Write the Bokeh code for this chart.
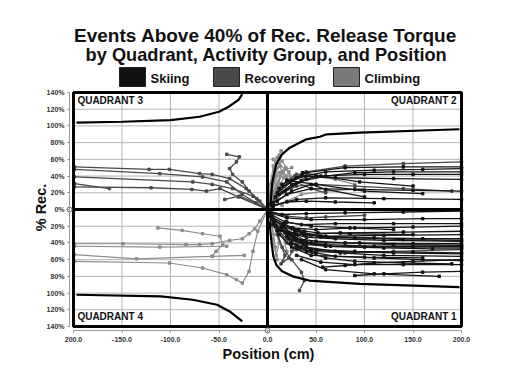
import math
from bokeh.plotting import figure
from bokeh.models import Label, FixedTicker, Range1d
from bokeh.core.properties import value
from bokeh.embed import file_html
from bokeh.resources import INLINE

# ---------------- data ----------------
x_ticks = [-200, -150, -100, -50, 0, 50, 100, 150, 200]
x_tick_labels = ["200.0", "-150.0", "-100.0", "-50.0", "0.0", "50.0", "100.0", "150.0", "200.0"]
y_ticks = [-140, -120, -100, -80, -60, -40, -20, 0, 20, 40, 60, 80, 100, 120, 140]
y_tick_labels = ["140%", "120%", "100%", "80%", "60%", "40%", "20%", "0%", "20%", "40%", "60%", "80%", "100%", "120%", "140%"]

categories = ["Skiing", "Recovering", "Climbing"]
title_lines = ["Events Above 40% of Rec. Release Torque",
               "by Quadrant, Activity Group, and Position"]
x_title = "Position (cm)"
y_title = "% Rec."

# threshold curves, one per quadrant
curve_q2_x = [3, 5, 9, 15, 23, 40, 54, 61, 95, 198]
curve_q2_y = [5, 33, 54, 66, 74, 84, 87, 90, 92, 96]
curve_q1_x = [2, 4, 6, 9, 15, 26, 43, 95, 198]
curve_q1_y = [-14, -38, -56, -66, -74, -80, -85, -89, -93]
curve_q3_x = [-197, -150, -100, -70, -50, -40, -30, -26]
curve_q3_y = [104, 105, 107, 111, 117, 123, 131, 138]
curve_q4_x = [-197, -110, -77, -52, -39, -26]
curve_q4_y = [-102, -104, -108, -114, -122, -134]

# Skiing traces
ski_x = [
    [2, 15, 40, 80, 140, 200],
    [3, 20, 45, 100, 160, 200],
    [4, 18, 35, 70, 130, 200],
    [3, 25, 50, 90, 150, 200],
    [5, 22, 38, 75, 140, 200],
    [4, 30, 55, 110, 160, 200],
    [6, 28, 45, 95, 150, 200],
    [5, 35, 60, 120, 170, 200],
    [8, 40, 70, 130, 200],
    [57, 80, 110, 150, 200],
    [30, 55, 90, 140, 200],
    [90, 120, 160, 200],
    [35, 60, 110, 177],
    [10, 30, 60, 120, 200],
    [12, 25, 45, 100, 160],
    [20, 45, 85, 130],
    [15, 35, 55, 90, 140, 200],
    [18, 30, 50, 80, 130, 200],
    [22, 40, 65, 100, 150, 200],
    [25, 45, 75, 120, 200],
    [14, 28, 40, 70, 120, 200],
    [30, 50, 70, 110, 160, 200],
    [40, 60, 90, 140, 190],
    [26, 38, 52, 85, 150],
    [16, 24, 32, 28, 36, 60, 110, 200],
    [20, 28, 24, 34, 50, 90, 150, 200],
    [10, 30, 60, 110, 160, 200],
    [8, 25, 50, 100, 150, 200],
    [12, 35, 70, 130, 200],
    [6, 20, 45, 90, 150, 200],
    [5, 30, 60, 120, 200],
    [15, 40, 80, 140, 200],
    [20, 50, 100, 160],
    [10, 25, 45, 60, 100],
    [6, 20, 40, 70, 110],
    [18, 35, 60, 90, 130, 200],
    [12, 28, 40, 36, 55, 95, 150],
]
ski_y = [
    [-2, -6, -5, -4, -3, -2],
    [-4, -10, -12, -12, -11, -11],
    [-6, -15, -18, -17, -17, -17],
    [-8, -22, -24, -22, -21, -20],
    [-10, -28, -30, -28, -27, -26],
    [-12, -25, -33, -34, -35, -35],
    [-15, -35, -40, -40, -41, -41],
    [-18, -38, -44, -46, -47, -47],
    [-20, -45, -50, -52, -53],
    [-69, -67, -64, -62, -60],
    [-55, -63, -66, -66, -66],
    [-79, -77, -75, -74],
    [-60, -72, -77, -80],
    [-25, -30, -32, -31, -30],
    [-30, -45, -55, -57, -58],
    [-15, -20, -22, -24],
    [-20, -28, -32, -34, -36, -37],
    [-28, -35, -38, -40, -42, -43],
    [-35, -42, -44, -45, -45, -45],
    [-40, -48, -52, -55, -56],
    [-24, -30, -33, -35, -37, -38],
    [-45, -52, -56, -58, -60, -61],
    [-50, -58, -62, -64, -65],
    [-22, -26, -28, -29, -30],
    [-18, -30, -24, -36, -40, -42, -44, -44],
    [-32, -26, -40, -46, -48, -50, -51, -52],
    [20, 38, 45, 47, 48, 49],
    [15, 30, 40, 42, 42, 42],
    [25, 40, 38, 37, 36],
    [8, 18, 25, 24, 23, 22],
    [5, 12, 14, 13, 12],
    [30, 44, 50, 51, 51],
    [35, 30, 22, 19],
    [10, 22, 30, 24, 15],
    [4, 9, 10, 9, 8],
    [22, 34, 40, 44, 45, 45],
    [18, 30, 36, 44, 40, 33, 28],
]

# Recovering traces
rec_x = [
    [2, 8, 15, 25, 35, 38, 33],
    [3, 12, 20, 30, 45, 80, 130, 200],
    [2, 10, 18, 14, 22, 30],
    [5, 15, 28, 40, 35, 25],
    [3, 20, 40, 60, 100],
    [4, 12, 22, 30, 26, 20, 32, 45],
    [4, 15, 30, 40, 35, 28, 40, 80, 140, 200],
    [3, 12, 25, 45, 60],
    [5, 15, 30, 50, 90, 140, 190],
    [-199, -122, -101, -70, -57, -39, -22, -8, 0],
    [-199, -111, -67, -42, -26, 0],
    [-199, -77, -57, -36, -15, 0],
    [-199, -163],
    [-199, -120, -78, -63, -49, -30, 0],
    [-42, -29, -32, -39, -36, -26, -19, -11, 0],
    [-44, -29, -12, 0],
]
rec_y = [
    [-3, -20, -45, -60, -75, -85, -97],
    [-5, -25, -40, -48, -50, -52, -50, -48],
    [-2, -30, -55, -65, -58, -40],
    [-8, -20, -30, -38, -45, -50],
    [-3, -8, -10, -9, -7],
    [-6, -28, -36, -30, -22, -35, -40, -32],
    [5, 30, 42, 40, 35, 40, 45, 52, 55, 57],
    [4, 25, 35, 25, 20],
    [6, 20, 28, 30, 28, 25, 22],
    [51, 48, 48, 43, 42, 37, 25, 10, 0],
    [48, 43, 39, 33, 18, 0],
    [39, 33, 30, 25, 16, 0],
    [31, 25],
    [27, 26, 24, 22, 25, 15, 0],
    [66, 63, 57, 49, 42, 33, 22, 13, 0],
    [12, 16, 8, 0],
]

# Climbing traces
cli_x = [
    [1, 6, 10, 8, 4],
    [2, 14, 20, 16],
    [1, 7, 12, 9, 5],
    [1, 5, 9, 12, 14],
    [2, 8, 15, 20, 18],
    [1, 4, 10, 6, 12, 18, 25],
    [3, 10, 20, 30, 45, 70, 90],
    [2, 6, 10, 15, 22, 30],
    [1, 3, 7, 11, 8, 15],
    [2, 5, 8, 13, 17, 11, 6],
    [1, 9, 16, 24, 19, 12],
    [1, 4, 7, 5, 9, 13, 10],
    [2, 7, 11, 16, 21, 14, 8],
    [1, 3, 6, 9, 12, 7],
    [5, 20, 35, 60, 100],
    [-113, -88, -67, -49, -46, -53, -57],
    [-199, -149, -84, -70, -57, -39, -26, -19, -13, -8, 0],
    [-199, -111, -42],
    [-199, -135, -57, -24],
    [-199, -101, -67, -42, -32, -26, -19, -15, -10, 0],
]
cli_y = [
    [-2, -30, -60, -45, -10],
    [-3, -25, -50, -62],
    [-1, -20, -40, -55, -35],
    [2, 30, 55, 65, 70],
    [3, 25, 45, 40, 20],
    [1, 20, 50, 60, 55, 48, 50],
    [2, 15, 35, 42, 40, 36, 30],
    [5, 40, 62, 58, 45, 30],
    [1, 15, 35, 20, 10, 5],
    [2, 22, 45, 52, 38, 28, 12],
    [1, 12, 28, 38, 50, 44],
    [2, 25, 48, 35, 28, 40, 20],
    [1, 18, 32, 45, 35, 22, 15],
    [3, 30, 52, 40, 25, 10],
    [3, 10, 18, 22, 25],
    [-22, -25, -29, -32, -42, -50, -56],
    [-41, -41, -42, -42, -41, -37, -35, -29, -23, -14, 0],
    [-44, -45, -44],
    [-54, -59, -56, -55],
    [-62, -64, -70, -78, -84, -88, -74, -50, -26, 0],
]

# ---------------- styles / layout ----------------
FONT = "Liberation Sans"
COLORS = {"Skiing": "#141414", "Recovering": "#4a4a4a", "Climbing": "#8c8c8c"}
LEGEND_FILL = {"Skiing": "#111111", "Recovering": "#4a4a4a", "Climbing": "#7a7a7a"}
XMIN, XMAX, YMIN, YMAX = -200, 200, -140, 140

W, H = 505, 362
BL, BR, BT, BB = 73, 461, 92, 326        # chart box edges, pixels
XS = (BR - BL) / (XMAX - XMIN)
YS = (BB - BT) / (YMAX - YMIN)


def px_x(px):
    return XMIN + (px - BL) / XS


def px_y(py):
    return YMAX - (py - BT) / YS


# pixel positions of header, axis lines and axis titles
title_pos = [(265, 35, "19px"), (266, 54, "18.2px")]
swatch_left = [119, 213, 333]
swatch_w, swatch_top, swatch_bot = 26, 67, 86
legend_text_gap = 5
yaxis_px, xaxis_px = 69, 330
ytitle_pos = (40, 207)
xtitle_pos = (268, 353)

# the frame covers the whole canvas; axes are pinned at fixed locations
p = figure(width=W, height=H,
           x_range=Range1d(px_x(0), px_x(W)), y_range=Range1d(px_y(H), px_y(0)),
           output_backend="svg", toolbar_location=None, min_border=0)
p.title.visible = False
p.background_fill_color = "white"
p.border_fill_color = "white"
p.outline_line_color = None
p.grid.visible = False

p.xaxis.ticker = FixedTicker(ticks=x_ticks)
p.xaxis.major_label_overrides = {t: s for t, s in zip(x_ticks, x_tick_labels)}
p.yaxis.ticker = FixedTicker(ticks=y_ticks)
p.yaxis.major_label_overrides = {t: s for t, s in zip(y_ticks, y_tick_labels)}
p.xaxis.bounds = (XMIN, XMAX)
p.yaxis.bounds = (YMIN, YMAX)
p.xaxis.fixed_location = px_y(xaxis_px)
p.yaxis.fixed_location = px_x(yaxis_px)
for ax in (p.xaxis, p.yaxis):
    ax.major_label_text_font = FONT
    ax.major_label_text_font_style = "bold"
    ax.major_label_text_font_size = "7px"
    ax.major_label_text_color = "#333333"
    ax.axis_line_color = "#999999"
    ax.major_tick_line_color = "#888888"
    ax.major_tick_in = 0
    ax.major_tick_out = 2
    ax.minor_tick_line_color = None
p.xaxis.major_label_standoff = 4
p.yaxis.major_label_standoff = 3

# grid lines inside the chart box
p.segment(x0=x_ticks, x1=x_ticks, y0=[YMIN] * len(x_ticks), y1=[YMAX] * len(x_ticks),
          line_color="#b4b4b4", line_width=1)
p.segment(x0=[XMIN] * len(y_ticks), x1=[XMAX] * len(y_ticks), y0=y_ticks, y1=y_ticks,
          line_color="#b4b4b4", line_width=1)

# data traces
for cat, xs, ys, lw in (("Climbing", cli_x, cli_y, 1.2),
                        ("Recovering", rec_x, rec_y, 1.3),
                        ("Skiing", ski_x, ski_y, 1.3)):
    for tx, ty in zip(xs, ys):
        p.line(tx, ty, line_color=COLORS[cat], line_width=lw)
        p.scatter(tx, ty, marker="square", size=2.5, fill_color=COLORS[cat],
                  line_color=COLORS[cat])

# threshold curves
for cx, cy in ((curve_q1_x, curve_q1_y), (curve_q2_x, curve_q2_y),
               (curve_q3_x, curve_q3_y), (curve_q4_x, curve_q4_y)):
    p.line(cx, cy, line_color="black", line_width=2.2)

# zero lines and chart box
p.segment(x0=[0, XMIN], x1=[0, XMAX], y0=[YMIN, 0], y1=[YMAX, 0],
          line_color="black", line_width=3)
p.quad(left=[XMIN], right=[XMAX], bottom=[YMIN], top=[YMAX], fill_color=None,
       line_color="black", line_width=3)
# small origin markers on the axis lines
p.scatter(x=[px_x(yaxis_px), 0], y=[0, px_y(xaxis_px)], marker="circle", size=5,
          fill_color="white", line_color="#666666", line_width=1)

# quadrant labels
for txt, x, y, align in (("QUADRANT 3", -196, 130, "left"), ("QUADRANT 2", 195, 130, "right"),
                         ("QUADRANT 4", -196, -128, "left"), ("QUADRANT 1", 195, -128, "right")):
    p.add_layout(Label(x=x, y=y, text=txt, text_align=align, text_baseline="middle",
                       text_font=FONT, text_font_style="bold", text_font_size="10px",
                       text_color="#111111"))

# title
for (tx, ty, fs), line in zip(title_pos, title_lines):
    p.text(x=[px_x(tx)], y=[px_y(ty)], text=[line], text_align="center",
           text_baseline="middle", text_font=value(FONT), text_font_style="bold",
           text_font_size=fs, text_color="#111111")

# legend
for cat, sl in zip(categories, swatch_left):
    p.quad(left=[px_x(sl)], right=[px_x(sl + swatch_w)], top=[px_y(swatch_top)],
           bottom=[px_y(swatch_bot)], fill_color=LEGEND_FILL[cat],
           line_color="#222222", line_width=1)
    p.text(x=[px_x(sl + swatch_w + legend_text_gap)], y=[px_y((swatch_top + swatch_bot) / 2 + 1)],
           text=[cat], text_align="left", text_baseline="middle",
           text_font=value(FONT), text_font_style="bold", text_font_size="13px",
           text_color="#111111")

# axis titles
p.text(x=[px_x(ytitle_pos[0])], y=[px_y(ytitle_pos[1])], text=[y_title], angle=math.pi / 2,
       text_align="center", text_baseline="middle", text_font=value(FONT),
       text_font_style="bold", text_font_size="14.5px", text_color="#111111")
p.text(x=[px_x(xtitle_pos[0])], y=[px_y(xtitle_pos[1])], text=[x_title],
       text_align="center", text_baseline="middle", text_font=value(FONT),
       text_font_style="bold", text_font_size="14.5px", text_color="#111111")

open("out.html", "w").write(file_html(p, INLINE))
